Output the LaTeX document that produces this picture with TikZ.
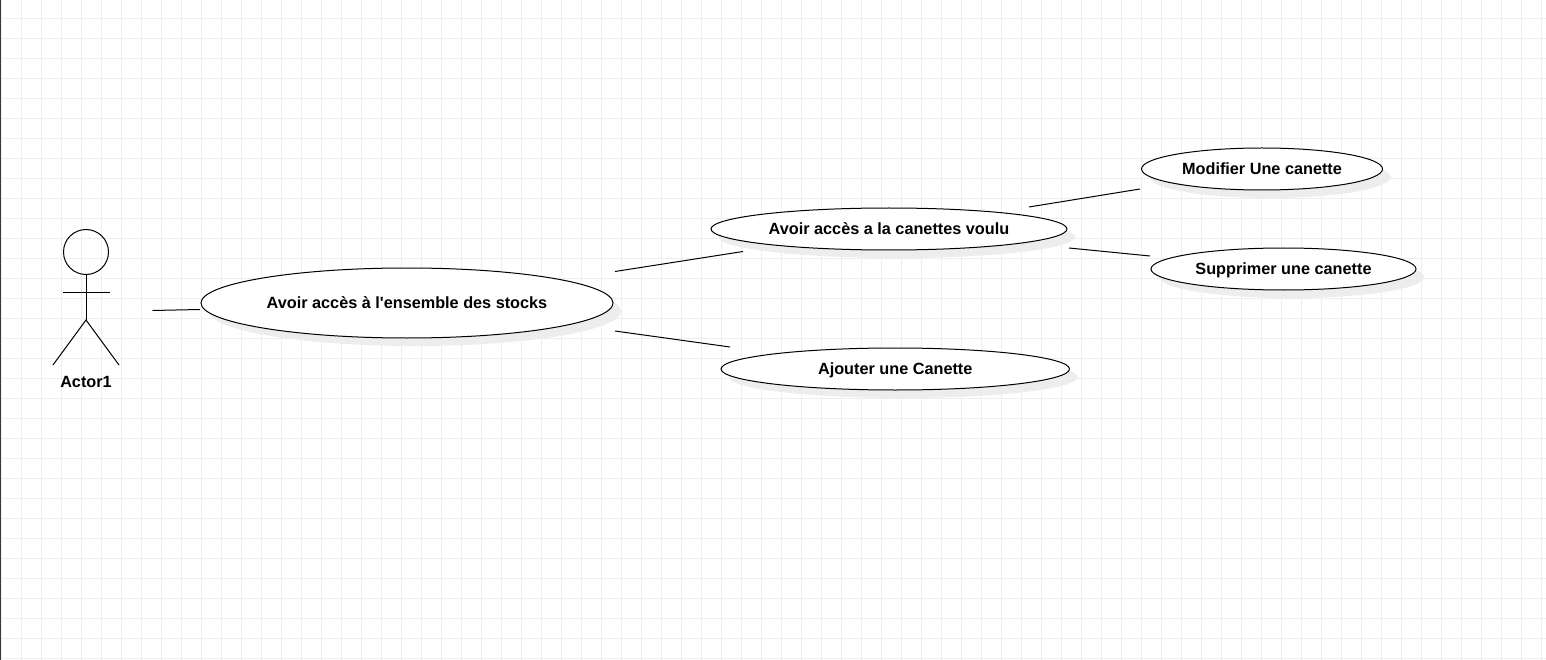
\documentclass[tikz,border=0pt]{standalone}
\usepackage{fontspec}
\setmainfont[Ligatures=TeXOff]{Liberation Sans}
\usetikzlibrary{shapes.geometric,shadows}
\definecolor{gridcol}{HTML}{EEEEEE}
\definecolor{shadowcol}{HTML}{EDEDED}
\definecolor{edgecol}{HTML}{333B3E}
\tikzset{
  gridline/.style={gridcol,line width=1pt},
  usecase/.style={ellipse,draw,line width=1pt,fill=white,inner sep=0pt,outer sep=0pt,
    text height=13.6pt,text depth=3pt,
    font=\fontsize{16.25}{18}\selectfont\bfseries,
    drop shadow={shadow xshift=8pt,shadow yshift=-8pt,fill=shadowcol,opacity=1}},
  link/.style={line width=1pt}
}
\begin{document}
\begin{tikzpicture}[x=1pt,y=-1pt]
\useasboundingbox (0,0) rectangle (1546,660);
\fill[white] (0,0) rectangle (1546,660);
\foreach \i in {0,...,77} \draw[gridline] (1.5+20*\i,0) -- (1.5+20*\i,660);
\foreach \i in {0,...,32} \draw[gridline] (0,18.5+20*\i) -- (1546,18.5+20*\i);
\fill[edgecol] (0,0) rectangle (1.3,660);

% actor
\node (head) [circle,draw,line width=1pt,inner sep=0pt,outer sep=0pt,minimum size=45pt] at (86,252) {};
\coordinate (hip) at (86,320);
\coordinate (armleft) at (62.5,292);
\coordinate (armright) at (109.5,292);
\coordinate (footleft) at (53,365);
\coordinate (footright) at (119,365);
\draw [link] (head.south) -- (hip);
\draw [link] (armleft) -- (armright);
\draw [link] (footleft) -- (hip) -- (footright);
\node (actor) [inner sep=0pt,font=\fontsize{16.25}{18}\selectfont\bfseries] at (86,381.5) {Actor1};

% use cases
\node (stocks) [usecase,minimum width=412pt,minimum height=70pt] at (407,303) {Avoir accès à l'ensemble des stocks};
\node (acces) [usecase,minimum width=356pt,minimum height=42pt] at (889,229) {Avoir accès a la canettes voulu};
\node (modifier) [usecase,minimum width=241pt,minimum height=42pt] at (1262,169) {Modifier Une canette};
\node (supprimer) [usecase,minimum width=265pt,minimum height=42pt] at (1283.5,269) {Supprimer une canette};
\node (ajouter) [usecase,minimum width=348.5pt,minimum height=42pt] at (895.25,369) {Ajouter une Canette};

% links, they stop short of the ellipses
\coordinate (actorend) at (152.5,310.5);
\coordinate (stocksin) at (200,309.5);
\coordinate (stocksup) at (615,271.5);
\coordinate (stocksdown) at (615,331);
\coordinate (accesin) at (743,251.5);
\coordinate (ajouterin) at (730,347);
\coordinate (accesup) at (1029,207);
\coordinate (accesdown) at (1069,248);
\coordinate (modifierin) at (1140,189);
\coordinate (supprimerin) at (1150,256);
\draw [link] (actorend) -- (stocksin);
\draw [link] (stocksup) -- (accesin);
\draw [link] (stocksdown) -- (ajouterin);
\draw [link] (accesup) -- (modifierin);
\draw [link] (accesdown) -- (supprimerin);
\end{tikzpicture}
\end{document}
